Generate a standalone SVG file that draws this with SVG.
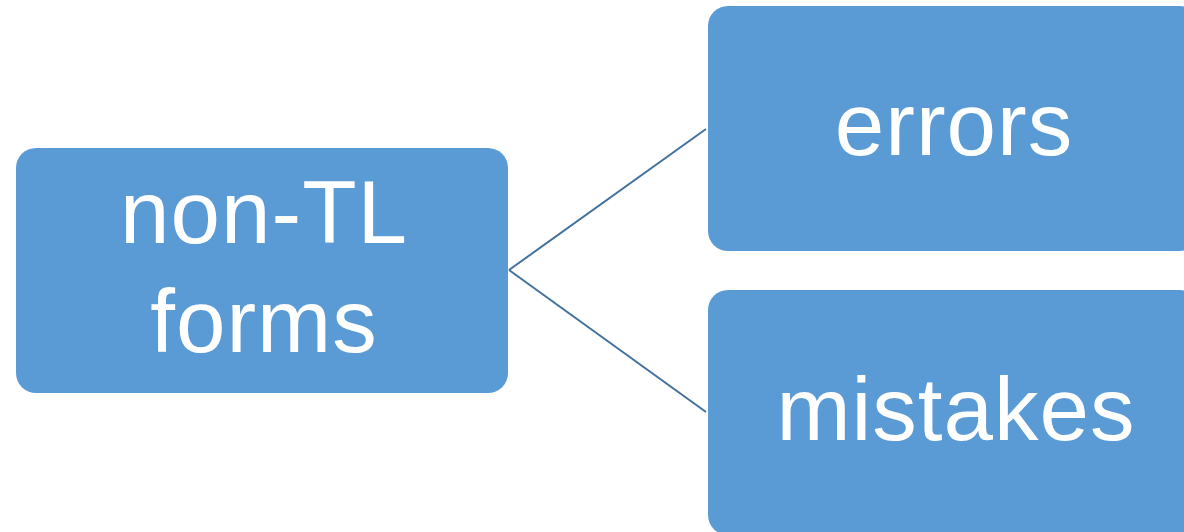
<svg xmlns="http://www.w3.org/2000/svg" width="1184" height="532" viewBox="0 0 1184 532">
<style>
.box{fill:#5b9bd5;}
.lbl{fill:#ffffff;font-family:"Liberation Sans",Arial,sans-serif;font-size:89px;letter-spacing:1px;text-anchor:middle;}
.conn{stroke:#41719c;stroke-width:2;fill:none;}
</style>
<rect x="0" y="0" width="1184" height="532" fill="#ffffff"/>
<g id="connectors">
<line class="conn" x1="509" y1="270" x2="706" y2="129"/>
<line class="conn" x1="509" y1="270" x2="706" y2="412"/>
</g>
<g id="node-nontl">
<rect class="box" x="16" y="148" width="492" height="245" rx="20" ry="20"/>
<text class="lbl" x="264" y="243">non-TL</text>
<text class="lbl" x="264" y="352">forms</text>
</g>
<g id="node-errors">
<rect class="box" x="708" y="6" width="492" height="245" rx="20" ry="20"/>
<text class="lbl" x="954" y="155">errors</text>
</g>
<g id="node-mistakes">
<rect class="box" x="708" y="290" width="492" height="245" rx="20" ry="20"/>
<text class="lbl" x="956" y="440">mistakes</text>
</g>
</svg>
